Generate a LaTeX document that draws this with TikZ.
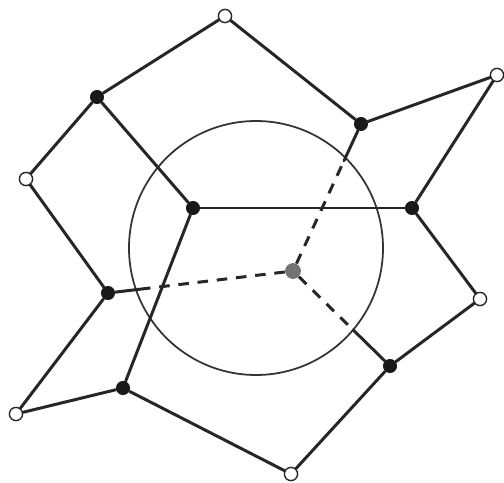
\documentclass[tikz,border=0pt]{standalone}
\usetikzlibrary{calc}
\begin{document}
\begin{tikzpicture}[x=0.02cm, y=-0.02cm,
  bond/.style={line width=1.7pt, line cap=round, black!85},
  blk/.style={circle, fill=black!90, inner sep=0pt, minimum size=8pt},
  wht/.style={circle, draw=black!85, line width=0.8pt, fill=white, inner sep=0pt, minimum size=7.5pt},
  cen/.style={circle, fill=black!55, inner sep=0pt, minimum size=9pt}]
  \useasboundingbox (0,0) rectangle (504,483);
  \draw[line width=1pt, black!80] (256,248) circle (127);

  % white sites
  \node[wht] (w1) at (225,16) {};
  \node[wht] (w2) at (497,75) {};
  \node[wht] (w3) at (26,179) {};
  \node[wht] (w4) at (480,299) {};
  \node[wht] (w5) at (16,414) {};
  \node[wht] (w6) at (291,474) {};
  % black sites
  \node[blk] (b1) at (97,97) {};
  \node[blk] (b2) at (361,124) {};
  \node[blk] (b3) at (193,208) {};
  \node[blk] (b4) at (412,208) {};
  \node[blk] (b5) at (108,293) {};
  \node[blk] (b6) at (123,388) {};
  \node[blk] (b7) at (390,366) {};
  \node[cen] (c) at (293,271) {};

  \foreach \a/\b in {w1/b1, w1/b2, b2/w2, w2/b4, b1/w3, b1/b3, w3/b5, b3/b4,
                     b3/b6, b4/w4, w4/b7, b5/w5, w5/b6, b6/w6, w6/b7}
    \draw[bond] (\a) -- (\b);

  % cuts on the circle
  \coordinate (k2) at ($(c)!0.75!(b2)$);
  \coordinate (k5) at ($(c)!0.83!(b5)$);
  \coordinate (k7) at ($(c)!0.62!(b7)$);
  \foreach \k/\b in {k2/b2, k5/b5, k7/b7} {
    \draw[bond] (\k) -- (\b);
    \draw[bond, line cap=butt, dash pattern=on 6pt off 5pt] (c) -- (\k);
  }
\end{tikzpicture}
\end{document}
